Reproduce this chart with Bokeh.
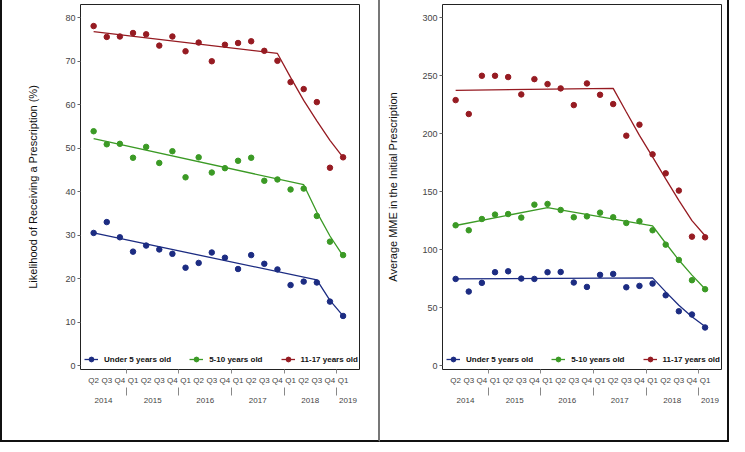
from bokeh.plotting import figure
from bokeh.models import FixedTicker, LinearAxis, Range1d, Legend, LegendItem
from bokeh.layouts import row
from bokeh.embed import file_html
from bokeh.resources import INLINE

# ---------------- data ----------------
quarter_labels = ["Q2", "Q3", "Q4",
                  "Q1", "Q2", "Q3", "Q4",
                  "Q1", "Q2", "Q3", "Q4",
                  "Q1", "Q2", "Q3", "Q4",
                  "Q1", "Q2", "Q3", "Q4",
                  "Q1"]
quarter_years = ["2014"] * 3 + ["2015"] * 4 + ["2016"] * 4 + ["2017"] * 4 + ["2018"] * 4 + ["2019"]
years = ["2014", "2015", "2016", "2017", "2018", "2019"]
quarter_idx = list(range(len(quarter_labels)))

series_names = ["Under 5 years old", "5-10 years old", "11-17 years old"]
series_colors = ["#1c2c82", "#3b9a25", "#961b22"]

# Panel A: likelihood of receiving a prescription (%)
a_under5 = [30.5, 33.0, 29.5, 26.2, 27.6, 26.7, 25.7, 22.5, 23.6, 26.0,
            24.8, 22.2, 25.4, 23.4, 22.1, 18.5, 19.3, 19.1, 14.7, 11.4]
a_5to10 = [53.9, 50.9, 51.0, 47.8, 50.3, 46.6, 49.3, 43.3, 47.9, 44.4,
           45.4, 47.1, 47.8, 42.5, 42.8, 40.5, 40.7, 34.4, 28.5, 25.4]
a_11to17 = [78.1, 75.6, 75.7, 76.5, 76.2, 73.6, 75.7, 72.3, 74.3, 70.0,
            73.8, 74.2, 74.6, 72.4, 70.1, 65.2, 63.6, 60.6, 45.5, 47.9]
# fitted (segmented) trend lines: knot quarters and values
a_under5_fit_q = [0, 17, 18, 19]
a_under5_fit = [30.5, 19.7, 15.0, 11.4]
a_5to10_fit_q = [0, 16, 17, 18, 19]
a_5to10_fit = [52.2, 41.6, 35.3, 29.8, 25.2]
a_11to17_fit_q = [0, 14, 15, 16, 17, 18, 19]
a_11to17_fit = [76.8, 71.8, 66.3, 61.0, 56.3, 51.8, 47.9]

# Panel B: average MME in the initial prescription
b_under5 = [74.7, 63.8, 71.3, 80.5, 81.3, 75.0, 74.7, 80.5, 80.7, 71.6,
            67.8, 78.2, 79.0, 67.5, 68.7, 70.7, 60.6, 46.8, 44.0, 32.8]
b_5to10 = [121.0, 116.7, 126.4, 130.2, 130.7, 127.6, 138.8, 139.4, 134.2, 127.9,
           128.7, 131.9, 127.9, 123.0, 124.5, 116.7, 104.3, 91.1, 73.6, 65.8]
b_11to17 = [229.0, 217.0, 250.0, 250.0, 248.9, 233.9, 247.1, 242.8, 239.1, 224.7,
            243.4, 233.6, 225.6, 198.3, 207.8, 182.2, 165.8, 150.9, 111.2, 110.6]
b_under5_fit_q = [0, 15, 16, 17, 18, 19]
b_under5_fit = [74.7, 75.6, 63.5, 52.0, 42.0, 33.6]
b_5to10_fit_q = [0, 7, 15, 16, 17, 18, 19]
b_5to10_fit = [120.8, 136.3, 120.5, 105.5, 91.0, 78.0, 66.0]
b_11to17_fit_q = [0, 12, 13, 14, 15, 16, 17, 18, 19]
b_11to17_fit = [237.4, 239.1, 218.7, 198.6, 180.0, 161.0, 142.5, 125.0, 112.0]

a_yticks = [0, 10, 20, 30, 40, 50, 60, 70, 80]
b_yticks = [0, 50, 100, 150, 200, 250, 300]

FONT = "Liberation Sans"
X_START, X_END = -1.0, 20.25


def make_panel(width, ylab, yrange, yticks, points, fits, border_left, border_right,
               label_standoff, styles):
    p = figure(width=width, height=442, x_range=Range1d(X_START, X_END),
               y_range=Range1d(*yrange), output_backend="svg", toolbar_location=None,
               min_border_left=border_left, min_border_right=border_right,
               min_border_top=4, min_border_bottom=73)
    p.styles = styles
    p.background_fill_color = "white"
    p.border_fill_color = "white"
    p.outline_line_color = "#222222"
    p.outline_line_width = 1
    p.xgrid.visible = False
    p.ygrid.visible = False

    # y axis
    ya = p.yaxis[0]
    ya.ticker = FixedTicker(ticks=yticks)
    ya.axis_label = ylab
    ya.axis_label_text_font = FONT
    ya.axis_label_text_font_size = "11px"
    ya.axis_label_text_font_style = "normal"
    ya.axis_label_text_color = "#111111"
    ya.axis_label_standoff = label_standoff
    ya.major_label_text_font = FONT
    ya.major_label_text_font_size = "9px"
    ya.major_label_text_color = "#444444"
    ya.major_label_standoff = 2
    ya.major_tick_out = 3
    ya.major_tick_in = 0
    ya.major_tick_line_color = "#666666"
    ya.minor_tick_line_color = None
    ya.axis_line_color = None

    # year groups
    boundaries = []
    centers = []
    for k, y in enumerate(years):
        idx = [i for i, yy in enumerate(quarter_years) if yy == y]
        lo = X_START if k == 0 else min(idx) - 0.5
        hi = X_END if k == len(years) - 1 else max(idx) + 0.5
        centers.append((lo + hi) / 2)
        if k < len(years) - 1:
            boundaries.append(max(idx) + 0.5)

    # quarter axis
    qa = p.xaxis[0]
    qa.ticker = FixedTicker(ticks=quarter_idx, minor_ticks=boundaries)
    qa.major_label_overrides = {i: lab for i, lab in zip(quarter_idx, quarter_labels)}
    qa.major_label_text_font = FONT
    qa.major_label_text_font_size = "8px"
    qa.major_label_text_color = "#444444"
    qa.major_label_standoff = 2
    qa.major_tick_out = 0
    qa.major_tick_in = 0
    qa.minor_tick_out = 4
    qa.minor_tick_in = 0
    qa.minor_tick_line_color = "#888888"
    qa.axis_line_color = None

    # year axis with group separators
    yax = LinearAxis(ticker=FixedTicker(ticks=centers, minor_ticks=boundaries))
    yax.major_label_overrides = {c: y for c, y in zip(centers, years)}
    yax.major_label_text_font = FONT
    yax.major_label_text_font_size = "8px"
    yax.major_label_text_color = "#444444"
    yax.major_label_standoff = 2
    yax.major_tick_out = 0
    yax.major_tick_in = 0
    yax.minor_tick_out = 8
    yax.minor_tick_in = 0
    yax.minor_tick_line_color = "#888888"
    yax.axis_line_color = None
    p.add_layout(yax, "below")

    items = []
    for name, color, vals, (fq, fv) in zip(series_names, series_colors, points, fits):
        lr = p.line(fq, fv, line_color=color, line_width=1.3)
        sr = p.scatter(quarter_idx, vals, size=5.5, fill_color=color, line_color=color)
        items.append(LegendItem(label=name, renderers=[lr, sr]))

    legend = Legend(items=items, orientation="horizontal", location="bottom_left",
                    glyph_width=14, glyph_height=12, label_height=10, label_standoff=6,
                    spacing=18, padding=2, margin=4,
                    label_text_font=FONT, label_text_font_size="8px",
                    label_text_font_style="bold", label_text_color="#111111",
                    border_line_color=None, background_fill_alpha=0)
    p.add_layout(legend, "center")
    return p


pA = make_panel(380, "Likelihood of Receiving a Prescription (%)", (-0.92, 83.06), a_yticks,
                [a_under5, a_5to10, a_11to17],
                [(a_under5_fit_q, a_under5_fit), (a_5to10_fit_q, a_5to10_fit),
                 (a_11to17_fit_q, a_11to17_fit)],
                78, 23, 23,
                {"border-left": "2px solid #111111", "border-bottom": "2px solid #111111",
                 "border-right": "2px solid #777777"})
pB = make_panel(349, "Average MME in the Initial Prescription", (-3.45, 311.5), b_yticks,
                [b_under5, b_5to10, b_11to17],
                [(b_under5_fit_q, b_under5_fit), (b_5to10_fit_q, b_5to10_fit),
                 (b_11to17_fit_q, b_11to17_fit)],
                62, 8, 20,
                {"border-bottom": "2px solid #111111", "border-right": "2px solid #111111"})

layout = row(pA, pB, spacing=0)
open("out.html", "w").write(file_html(layout, INLINE))
